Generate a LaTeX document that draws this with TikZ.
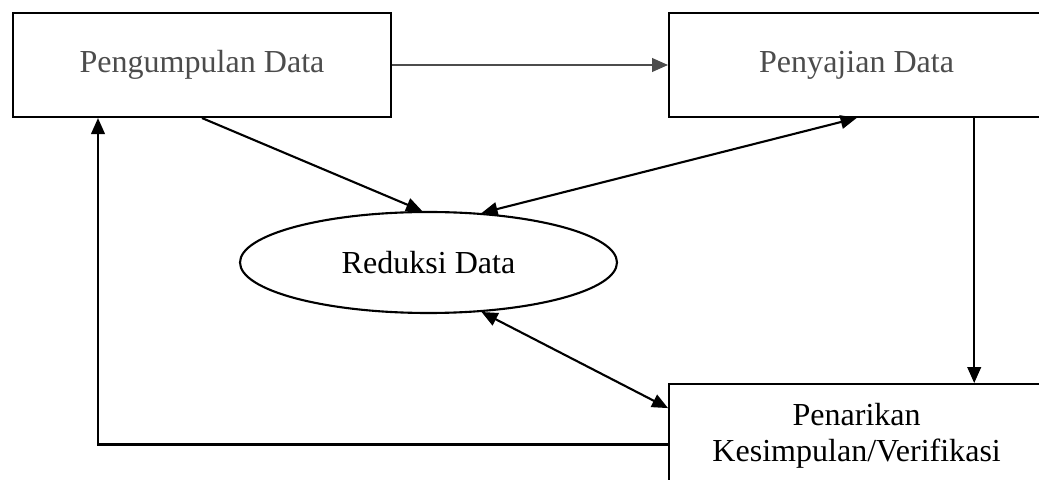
\documentclass[tikz,border=0pt]{standalone}
\usepackage{fontspec}
\setmainfont{Liberation Serif}
\usetikzlibrary{arrows.meta, positioning, shapes}

\begin{document}
\begin{tikzpicture}[>={Triangle[length=4mm, width=3.4mm]}, line width=1.5pt,
    box/.style={draw, minimum width=9.375cm, minimum height=2.6cm, inner sep=0pt, align=center, font=\fontsize{22.8}{25.6}\selectfont},
    faded/.style={text=black!70}]
    \useasboundingbox (0,0) rectangle (25.975,11.975);

    % Pengumpulan Data
    \node[box, faded, minimum width=9.45cm] (pgm) at (5.05,10.35) {Pengumpulan Data};

    % Penyajian Data
    \node[box, faded, right=6.9cm of pgm] (pen) {Penyajian Data};

    % Penarikan Kesimpulan
    \node[box, below=6.625cm of pen] (con) {Penarikan\\Kesimpulan/Verifikasi};

    % Reduksi Data
    \node[draw, ellipse, minimum width=9.425cm, minimum height=2.525cm, inner sep=0pt, font=\fontsize{22.8}{25.6}\selectfont] (red) at (10.7125,5.4125) {Reduksi Data};

    % Arrows
    \draw[->, draw=black!70] (pgm.east) -- (pen.west);
    \draw[->] (pgm.south) -- (red.97);
    \draw[<->] (red.43) -- (pen.south);
    \draw[<->] (red.-43) -- ([yshift=0.7cm]con.west);
    \draw[->] ([xshift=2.94cm]pen.south) -- ([xshift=2.94cm]con.north);
    \draw[->] ([yshift=-0.21cm]con.west) -| ([xshift=-2.6cm]pgm.south);
\end{tikzpicture}
\end{document}
